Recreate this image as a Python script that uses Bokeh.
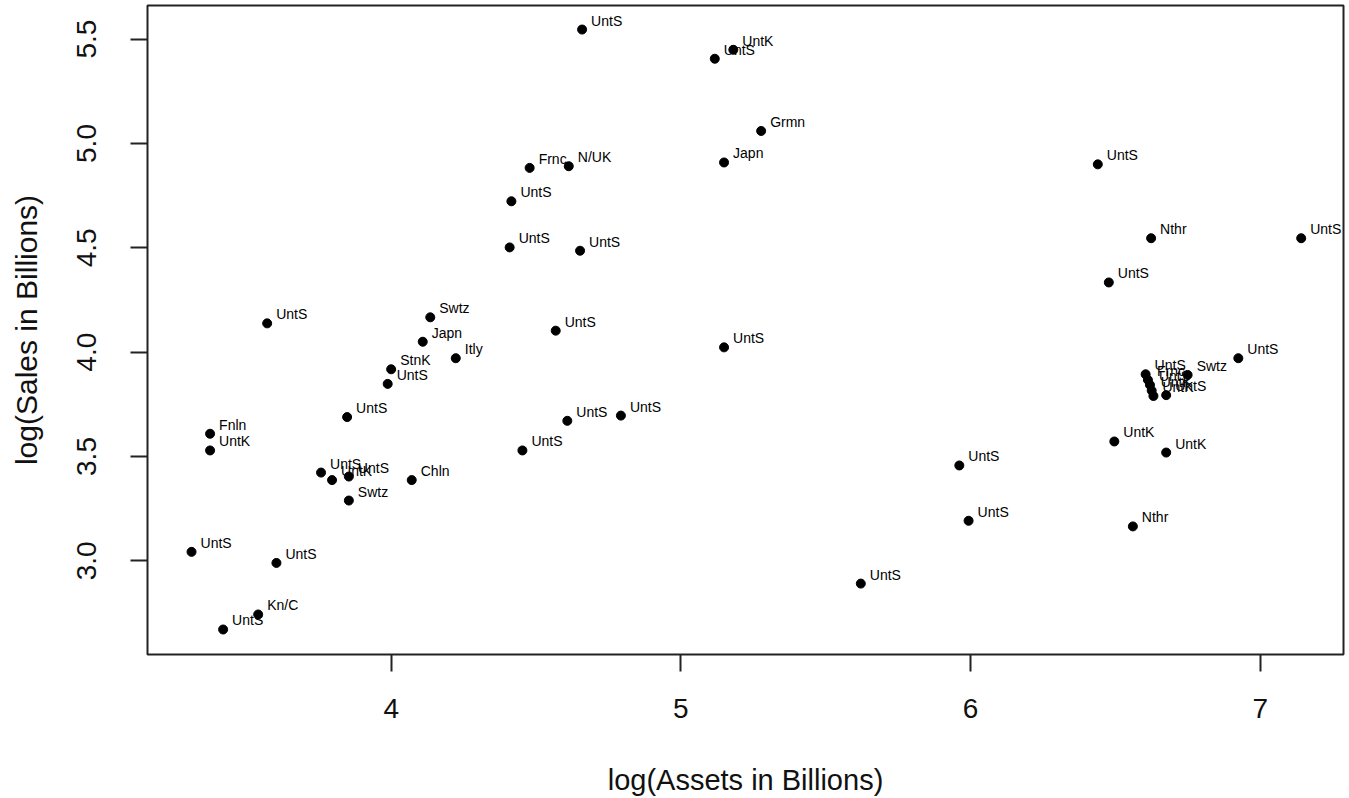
from bokeh.plotting import figure
from bokeh.models import Range1d, ColumnDataSource, FixedTicker
from bokeh.core.properties import value
from bokeh.embed import file_html
from bokeh.resources import INLINE

# Company country labels, log(Assets) and log(Sales)
countries = [
    "UntS", "Swtz", "Japn", "Itly", "StnK", "UntS", "UntS", "Fnln", "UntK", "UntS",
    "UntK", "UntS", "Swtz", "Chln", "UntS", "UntS", "Kn/C", "UntS", "UntS", "UntS",
    "UntK", "Grmn", "Japn", "Frnc", "N/UK", "UntS", "UntS", "UntS", "UntS", "UntS",
    "UntS", "UntS", "UntS", "UntS", "UntS", "UntS", "UntS", "Nthr", "UntS", "UntS",
    "UntS", "UntK", "UntK", "Nthr", "Swtz", "UntS", "Frnc", "UntS", "UntK", "UntK",
    "UntS",
]
log_assets = [
    3.572, 4.135, 4.109, 4.223, 4.000, 3.988, 3.848, 3.375, 3.375, 3.758,
    3.796, 3.854, 3.854, 4.071, 3.311, 3.604, 3.541, 3.420, 4.659, 5.117,
    5.181, 5.277, 5.149, 4.478, 4.613, 4.415, 4.409, 4.652, 4.568, 5.149,
    4.608, 4.793, 4.453, 5.621, 5.961, 5.993, 6.439, 6.623, 7.141, 6.477,
    6.924, 6.496, 6.675, 6.560, 6.749, 6.604, 6.612, 6.619, 6.625, 6.631,
    6.675,
]
log_sales = [
    4.138, 4.167, 4.050, 3.971, 3.918, 3.848, 3.689, 3.609, 3.529, 3.423,
    3.387, 3.404, 3.289, 3.387, 3.043, 2.990, 2.743, 2.671, 5.546, 5.406,
    5.449, 5.060, 4.909, 4.883, 4.891, 4.723, 4.502, 4.486, 4.103, 4.023,
    3.671, 3.696, 3.529, 2.891, 3.457, 3.192, 4.900, 4.546, 4.546, 4.334,
    3.971, 3.572, 3.519, 3.165, 3.891, 3.894, 3.867, 3.843, 3.816, 3.790,
    3.794,
]
x_ticks = [4, 5, 6, 7]
y_ticks = [3.0, 3.5, 4.0, 4.5, 5.0, 5.5]
x_title = "log(Assets in Billions)"
y_title = "log(Sales in Billions)"

src = ColumnDataSource(dict(x=log_assets, y=log_sales, name=countries))

FONT = "Liberation Sans"

p = figure(
    width=1349, height=798,
    output_backend="svg", toolbar_location=None,
    x_range=Range1d(3.159, 7.287), y_range=Range1d(2.5512, 5.6612),
    min_border_left=147, min_border_right=6, min_border_top=5, min_border_bottom=143,
)
p.background_fill_color = "white"
p.border_fill_color = "white"
p.grid.visible = False
p.outline_line_color = "#222222"
p.outline_line_width = 2

p.scatter("x", "y", source=src, size=9, color="black")
p.text("x", "y", text="name", source=src, x_offset=9, y_offset=-9,
       text_font=value(FONT), text_font_size="14px", text_color="black",
       text_baseline="alphabetic", text_align="left")

for ax in (p.xaxis[0], p.yaxis[0]):
    ax.axis_line_color = None
    ax.major_tick_out = 17
    ax.major_tick_in = 0
    ax.minor_tick_line_color = None
    ax.major_tick_line_color = "#222222"
    ax.major_tick_line_width = 2
    ax.major_label_text_font = FONT
    ax.major_label_text_font_size = "28px"
    ax.major_label_text_color = "#111111"
    ax.axis_label_text_font = FONT
    ax.axis_label_text_font_style = "normal"
    ax.axis_label_text_color = "#111111"

p.xaxis[0].ticker = FixedTicker(ticks=x_ticks)
p.yaxis[0].ticker = FixedTicker(ticks=y_ticks)
p.yaxis[0].major_label_overrides = {t: f"{t:.1f}" for t in y_ticks}
p.yaxis[0].major_label_orientation = "vertical"
p.xaxis[0].axis_label = x_title
p.yaxis[0].axis_label = y_title
p.xaxis[0].axis_label_text_font_size = "29px"
p.yaxis[0].axis_label_text_font_size = "30px"
p.xaxis[0].major_label_standoff = 27
p.yaxis[0].major_label_standoff = 34
p.xaxis[0].axis_label_standoff = 43
p.yaxis[0].axis_label_standoff = 32

open("out.html", "w").write(file_html(p, INLINE))
